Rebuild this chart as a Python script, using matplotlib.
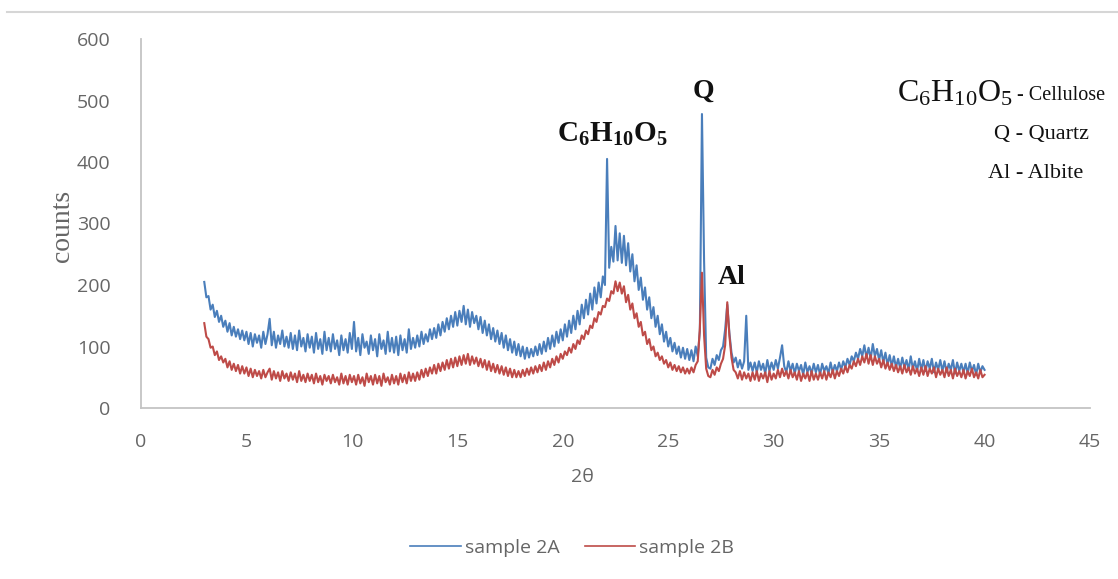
import numpy as np
import matplotlib
matplotlib.use("Agg")
import matplotlib.pyplot as plt
from matplotlib.lines import Line2D

# ---- data (2-theta scan, step 0.1 deg, 3.0 .. 40.0) ----
two_theta_start = 3.0
two_theta_step = 0.1

sample_2A = [
    205, 180, 182, 160, 168, 148, 158, 140, 150, 132,
    142, 124, 138, 118, 132, 116, 128, 112, 126, 110,
    124, 104, 122, 100, 120, 106, 118, 98, 124, 104,
    120, 145, 102, 124, 98, 118, 104, 126, 100, 116,
    98, 122, 96, 118, 94, 126, 100, 114, 92, 120,
    98, 116, 90, 122, 96, 112, 88, 124, 94, 114,
    92, 120, 96, 110, 86, 118, 94, 112, 90, 122,
    96, 140, 92, 114, 86, 120, 98, 108, 88, 118,
    94, 112, 84, 120, 96, 110, 88, 124, 92, 114,
    90, 116, 86, 118, 94, 112, 90, 128, 96, 114,
    98, 118, 100, 124, 104, 120, 108, 128, 112, 130,
    114, 136, 118, 140, 124, 146, 128, 150, 132, 156,
    134, 158, 140, 166, 136, 160, 132, 156, 138, 150,
    128, 148, 122, 142, 118, 136, 112, 130, 108, 126,
    104, 122, 98, 118, 94, 112, 90, 108, 86, 104,
    84, 100, 80, 98, 82, 96, 84, 100, 86, 104,
    88, 108, 92, 114, 96, 118, 100, 124, 106, 128,
    110, 136, 116, 142, 122, 150, 128, 158, 136, 168,
    146, 176, 152, 186, 160, 196, 170, 204, 180, 214,
    200, 405, 228, 262, 238, 296, 240, 284, 236, 280,
    232, 268, 222, 250, 206, 232, 192, 212, 176, 196,
    160, 180, 146, 164, 132, 150, 120, 136, 108, 124,
    100, 114, 92, 106, 88, 100, 82, 98, 80, 96,
    78, 94, 76, 100, 84, 125, 478, 240, 82, 66,
    64, 80, 70, 86, 78, 94, 100, 128, 168, 122,
    90, 74, 82, 66, 78, 64, 76, 150, 62, 74,
    60, 74, 58, 76, 62, 72, 56, 78, 60, 74,
    62, 78, 64, 82, 102, 68, 58, 76, 60, 72,
    56, 72, 60, 70, 54, 74, 58, 68, 56, 72,
    58, 70, 54, 72, 60, 68, 56, 74, 58, 70,
    60, 74, 62, 76, 66, 80, 70, 84, 76, 90,
    80, 96, 84, 102, 82, 98, 80, 104, 84, 96,
    78, 94, 74, 90, 70, 86, 68, 84, 66, 80,
    64, 82, 66, 78, 62, 84, 64, 76, 60, 80,
    62, 78, 60, 76, 64, 80, 58, 74, 62, 78,
    60, 76, 58, 72, 62, 78, 56, 74, 60, 72,
    58, 72, 56, 74, 60, 70, 54, 72, 58, 68,
    62,
]

sample_2B = [
    138, 116, 112, 98, 100, 86, 92, 78, 84, 74,
    80, 66, 76, 62, 72, 60, 70, 56, 68, 56,
    66, 52, 64, 50, 62, 52, 60, 48, 62, 50,
    58, 64, 46, 60, 48, 58, 44, 60, 48, 56,
    44, 58, 46, 56, 42, 60, 44, 54, 42, 56,
    44, 54, 40, 56, 42, 52, 38, 54, 44, 52,
    40, 54, 42, 50, 38, 56, 40, 52, 38, 54,
    42, 52, 38, 54, 40, 50, 36, 56, 42, 52,
    38, 54, 40, 52, 36, 56, 42, 50, 38, 54,
    40, 52, 38, 56, 42, 54, 40, 58, 44, 56,
    44, 58, 46, 62, 50, 64, 52, 66, 56, 70,
    56, 72, 60, 74, 62, 78, 64, 80, 66, 82,
    68, 84, 70, 86, 72, 88, 70, 84, 72, 82,
    68, 80, 66, 78, 62, 76, 60, 72, 58, 70,
    56, 68, 54, 66, 52, 64, 50, 62, 50, 60,
    50, 62, 52, 64, 54, 66, 56, 68, 58, 70,
    60, 74, 62, 76, 66, 80, 70, 84, 74, 88,
    80, 92, 86, 98, 90, 104, 96, 110, 104, 118,
    112, 126, 120, 134, 130, 146, 140, 156, 152, 166,
    164, 178, 174, 190, 186, 206, 190, 204, 186, 198,
    172, 184, 160, 170, 146, 154, 132, 140, 118, 124,
    104, 112, 94, 100, 84, 90, 78, 84, 72, 78,
    66, 74, 62, 70, 60, 68, 58, 66, 56, 64,
    56, 66, 58, 70, 76, 130, 220, 118, 64, 52,
    50, 62, 54, 66, 60, 72, 80, 102, 172, 118,
    82, 62, 58, 48, 60, 46, 58, 48, 56, 44,
    58, 46, 60, 44, 56, 48, 58, 42, 60, 46,
    56, 48, 62, 50, 64, 52, 60, 48, 62, 50,
    58, 46, 60, 44, 56, 48, 58, 44, 60, 46,
    56, 46, 58, 48, 60, 46, 58, 50, 62, 48,
    60, 52, 64, 56, 68, 58, 70, 64, 76, 68,
    80, 70, 84, 74, 88, 72, 86, 70, 84, 72,
    80, 66, 78, 64, 74, 62, 72, 60, 70, 58,
    68, 56, 70, 58, 66, 54, 68, 56, 64, 52,
    66, 54, 68, 52, 64, 56, 66, 50, 64, 54,
    62, 50, 66, 52, 62, 48, 64, 52, 60, 50,
    62, 48, 60, 52, 64, 50, 58, 48, 62, 50,
    54,
]

series_labels = ["sample 2A", "sample 2B"]
x_ticks = [0, 5, 10, 15, 20, 25, 30, 35, 40, 45]
y_ticks = [0, 100, 200, 300, 400, 500, 600]

two_theta = np.round(two_theta_start + two_theta_step * np.arange(len(sample_2A)), 2)

# ---- figure ----
W, H = 1118, 579
fig = plt.figure(figsize=(W / 100, H / 100), dpi=100)
ax = fig.add_axes([141 / W, 1 - 408 / H, (1090 - 141) / W, (408 - 39) / H])

# faint frame line at top of image
fig.add_artist(Line2D([7 / W, 1.0], [1 - 11.5 / H, 1 - 11.5 / H],
                      transform=fig.transFigure, color="#D6D6D6", lw=1.5))

blue = "#4A7EBB"
red = "#BE4B48"
l1, = ax.plot(two_theta, sample_2A, color=blue, lw=1.5, label=series_labels[0])
l2, = ax.plot(two_theta, sample_2B, color=red, lw=1.5, label=series_labels[1])

ax.set_xlim(0, 45)
ax.set_ylim(0, 600)
ax.set_xticks(x_ticks)
ax.set_yticks(y_ticks)
tick_color = "#666666"
sans = ["Open Sans", "DejaVu Sans"]
for lab in ax.get_xticklabels() + ax.get_yticklabels():
    lab.set_family(sans)
    lab.set_fontsize(14)
    lab.set_color(tick_color)
ax.tick_params(axis="x", length=0, pad=18)
ax.tick_params(axis="y", length=0, pad=22)
for s in ["top", "right"]:
    ax.spines[s].set_visible(False)
for s in ["left", "bottom"]:
    ax.spines[s].set_color("#C4C4C4")
    ax.spines[s].set_linewidth(1.3)

serif = ["Liberation Serif", "DejaVu Serif"]
fig.text(62 / W, 1 - 226 / H, "counts", rotation=90, ha="center", va="center",
         family=serif, fontsize=20, color=tick_color)
fig.text(582 / W, 1 - 477 / H, "2θ", ha="center", va="center",
         family=sans, fontsize=14, color=tick_color)

# legend
leg = fig.legend(handles=[l1, l2], labels=series_labels, loc="center",
                 bbox_to_anchor=(572 / W, 1 - 548 / H), ncol=2, frameon=False,
                 prop={"family": sans, "size": 14}, handlelength=2.6,
                 columnspacing=1.3, handletextpad=0.2)
for t in leg.get_texts():
    t.set_color(tick_color)
for h in leg.legend_handles:
    h.set_linewidth(1.2)

# annotations
plt.rcParams["mathtext.fontset"] = "custom"
plt.rcParams["mathtext.rm"] = "Liberation Serif"
plt.rcParams["mathtext.bf"] = "Liberation Serif:bold"
ink = "#111111"
fig.text(612 / W, 1 - 134 / H, r"$\mathbf{C_{6}H_{10}O_{5}}$", ha="center", va="center",
         fontsize=21, color=ink)
fig.text(703 / W, 1 - 91 / H, "Q", ha="center", va="center", family=serif,
         weight="bold", fontsize=20, color=ink)
fig.text(732 / W, 1 - 277 / H, "Al", ha="center", va="center", family=serif,
         weight="bold", fontsize=20, color=ink)

fig.text(897 / W, 1 - 93 / H, r"$\mathrm{C_{6}H_{10}O_{5}}$", ha="left", va="center",
         fontsize=23, color=ink)
fig.text(1017 / W, 1 - 96 / H, "- Cellulose", ha="left", va="center", family=serif,
         fontsize=14.5, color=ink)
fig.text(1042 / W, 1 - 135 / H, "Q - Quartz", ha="center", va="center", family=serif,
         fontsize=16, color=ink)
fig.text(1036 / W, 1 - 173 / H, "Al - Albite", ha="center", va="center", family=serif,
         fontsize=16, color=ink)

fig.savefig("out.png", dpi=100)
